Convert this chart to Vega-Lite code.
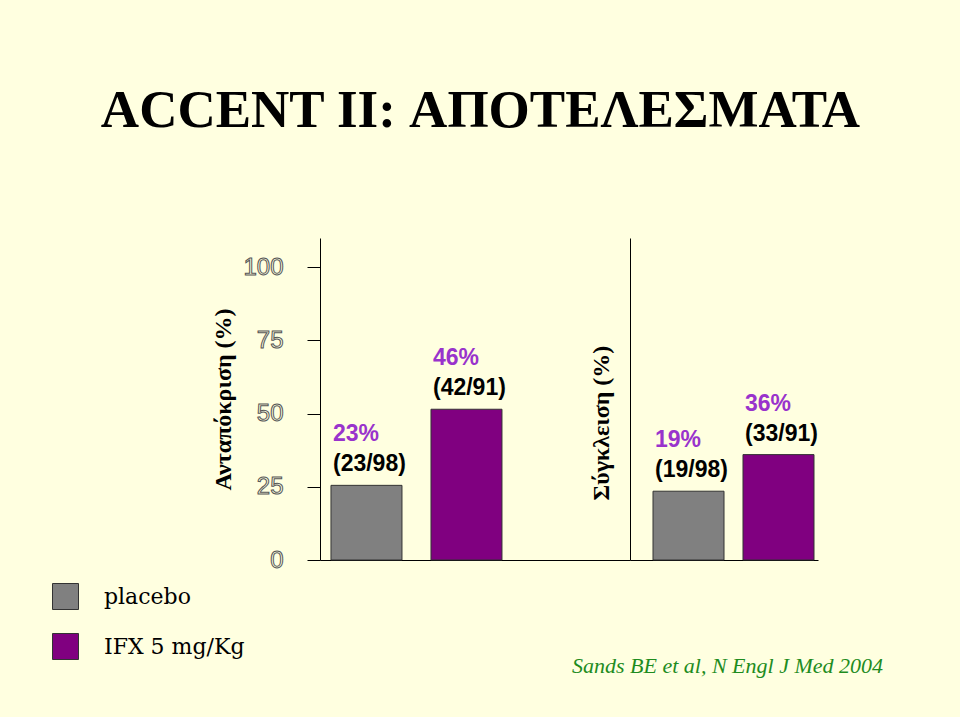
{
  "$schema": "https://vega.github.io/schema/vega-lite/v6.json",
  "background": "#FFFFE0",
  "padding": {"left": 52, "top": 85, "right": 77, "bottom": 40},
  "bounds": "flush",
  "spacing": 0,
  "title": {
    "text": "ACCENT II: ΑΠΟΤΕΛΕΣΜΑΤΑ",
    "font": "Liberation Serif",
    "fontSize": 53,
    "fontWeight": "bold",
    "color": "#000000",
    "anchor": "middle",
    "frame": "bounds",
    "baseline": "alphabetic",
    "offset": 58,
    "dx": 13
  },
  "data": {
    "values": [
      {"outcome": "Ανταπόκριση", "treatment": "placebo", "value": 25.5, "pct": "23%", "count": "(23/98)"},
      {"outcome": "Ανταπόκριση", "treatment": "IFX 5 mg/Kg", "value": 51.5, "pct": "46%", "count": "(42/91)"},
      {"outcome": "Σύγκλειση", "treatment": "placebo", "value": 23.5, "pct": "19%", "count": "(19/98)"},
      {"outcome": "Σύγκλειση", "treatment": "IFX 5 mg/Kg", "value": 36, "pct": "36%", "count": "(33/91)"}
    ]
  },
  "resolve": {"scale": {"x": "independent", "y": "independent", "color": "shared"}, "legend": {"color": "shared"}},
  "hconcat": [
    {
      "width": 310,
      "height": 322,
      "transform": [{"filter": "datum.outcome === 'Ανταπόκριση'"}],
      "encoding": {
        "x": {
          "field": "treatment", "type": "nominal", "sort": ["placebo", "IFX 5 mg/Kg"],
          "scale": {"paddingInner": 0.29, "paddingOuter": 0.695, "align": 0.079},
          "axis": {"title": null, "labels": false, "ticks": false, "domainColor": "#000000", "domainWidth": 1}
        },
        "y": {
          "field": "value", "type": "quantitative",
          "scale": {"domain": [0, 110], "nice": false},
          "axis": {
            "values": [0, 25, 50, 75, 100],
            "title": "Ανταπόκριση (%)",
            "titleFont": "Liberation Serif", "titleFontSize": 24, "titleFontWeight": "bold", "titleColor": "#000000",
            "titlePadding": 7,
            "labelFont": "Liberation Sans", "labelFontSize": 24, "labelColor": "#FFFFE0", "labelPadding": 24,
            "tickSize": 13, "tickColor": "#000000", "domainColor": "#000000", "grid": false,
            "encoding": {"labels": {"stroke": {"value": "#555555"}, "strokeWidth": {"value": 1}}}
          }
        }
      },
      "layer": [
        {
          "mark": {"type": "bar", "stroke": "#333333", "strokeWidth": 1},
          "encoding": {
            "color": {
              "field": "treatment", "type": "nominal",
              "scale": {"domain": ["placebo", "IFX 5 mg/Kg"], "range": ["#808080", "#800080"]},
              "legend": {
                "orient": "none", "legendX": -268, "legendY": 345, "title": null,
                "symbolType": "square", "symbolSize": 676, "symbolStrokeColor": "#333333", "symbolStrokeWidth": 1, "symbolOpacity": 1,
                "labelFont": "DejaVu Serif", "labelFontSize": 22, "labelColor": "#000000", "labelOffset": 25, "rowPadding": 19
              }
            }
          }
        },
        {
          "mark": {"type": "text", "align": "left", "baseline": "alphabetic", "dx": 2, "dy": -14, "font": "Liberation Sans", "fontSize": 23, "fontWeight": "bold", "color": "#000000"},
          "encoding": {
            "x": {"field": "treatment", "type": "nominal", "sort": ["placebo", "IFX 5 mg/Kg"], "bandPosition": 0},
            "text": {"field": "count"}
          }
        },
        {
          "mark": {"type": "text", "align": "left", "baseline": "alphabetic", "dx": 2, "dy": -44, "font": "Liberation Sans", "fontSize": 23, "fontWeight": "bold", "color": "#9933CC"},
          "encoding": {
            "x": {"field": "treatment", "type": "nominal", "sort": ["placebo", "IFX 5 mg/Kg"], "bandPosition": 0},
            "text": {"field": "pct"}
          }
        }
      ]
    },
    {
      "width": 188,
      "height": 322,
      "title": {
        "text": "Sands BE et al, N Engl J Med 2004",
        "orient": "bottom", "anchor": "end", "frame": "group",
        "font": "Liberation Serif", "fontStyle": "italic", "fontWeight": "normal", "fontSize": 22,
        "color": "#1E8C1E", "baseline": "alphabetic", "offset": 112, "dx": 65
      },
      "transform": [{"filter": "datum.outcome === 'Σύγκλειση'"}],
      "encoding": {
        "x": {
          "field": "treatment", "type": "nominal", "sort": ["placebo", "IFX 5 mg/Kg"],
          "scale": {"paddingInner": 0.211, "paddingOuter": 0.15, "align": 0.852},
          "axis": {"title": null, "labels": false, "ticks": false, "domainColor": "#000000", "domainWidth": 1}
        },
        "y": {
          "field": "value", "type": "quantitative",
          "scale": {"domain": [0, 110], "nice": false},
          "axis": {
            "title": "Σύγκλειση (%)",
            "titleFont": "Liberation Serif", "titleFontSize": 24, "titleFontWeight": "bold", "titleColor": "#000000",
            "titlePadding": 17, "titleAlign": "left", "titleY": 262,
            "labels": false, "ticks": false, "domainColor": "#000000", "grid": false
          }
        }
      },
      "layer": [
        {
          "mark": {"type": "bar", "stroke": "#333333", "strokeWidth": 1},
          "encoding": {
            "color": {"field": "treatment", "type": "nominal", "scale": {"domain": ["placebo", "IFX 5 mg/Kg"], "range": ["#808080", "#800080"]}}
          }
        },
        {
          "mark": {"type": "text", "align": "left", "baseline": "alphabetic", "dx": 2, "dy": -14, "font": "Liberation Sans", "fontSize": 23, "fontWeight": "bold", "color": "#000000"},
          "encoding": {
            "x": {"field": "treatment", "type": "nominal", "sort": ["placebo", "IFX 5 mg/Kg"], "bandPosition": 0},
            "text": {"field": "count"}
          }
        },
        {
          "mark": {"type": "text", "align": "left", "baseline": "alphabetic", "dx": 2, "dy": -44, "font": "Liberation Sans", "fontSize": 23, "fontWeight": "bold", "color": "#9933CC"},
          "encoding": {
            "x": {"field": "treatment", "type": "nominal", "sort": ["placebo", "IFX 5 mg/Kg"], "bandPosition": 0},
            "text": {"field": "pct"}
          }
        }
      ]
    }
  ],
  "config": {
    "view": {"stroke": null},
    "axis": {"domainColor": "#000000", "tickColor": "#000000"}
  }
}
